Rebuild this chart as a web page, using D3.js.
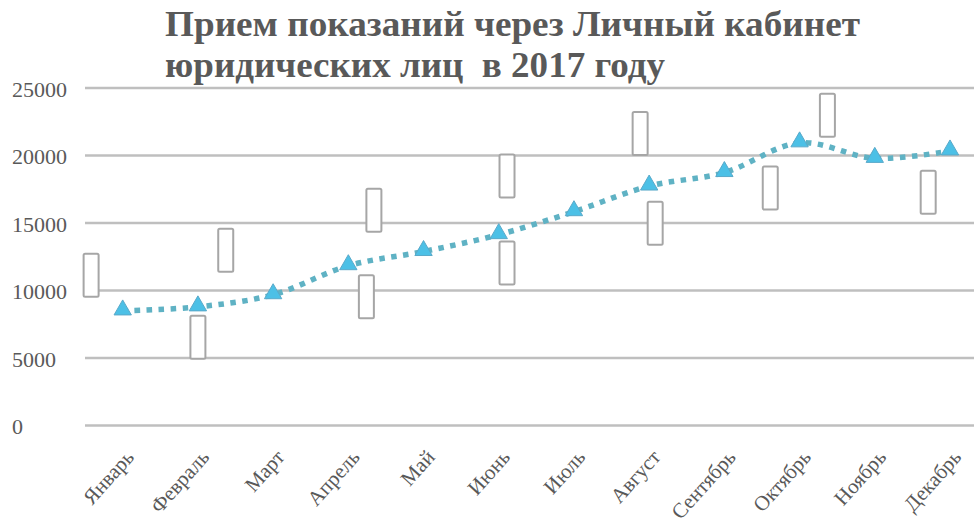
<!DOCTYPE html>
<html>
<head>
<meta charset="utf-8">
<script src="https://cdnjs.cloudflare.com/ajax/libs/d3/7.8.5/d3.min.js"></script>
<style>
  body { margin: 0; background: #fff; }
  svg { display: block; }
</style>
</head>
<body>
<div id="chart"></div>
<script>
// Прием показаний через ЛК юр. лиц, 2017

var months = ['Январь', 'Февраль', 'Март', 'Апрель', 'Май', 'Июнь',
              'Июль', 'Август', 'Сентябрь', 'Октябрь', 'Ноябрь', 'Декабрь'];
var readings = [8450, 8750, 9650, 11800, 12850, 14100,
                15800, 17700, 18700, 20900, 19750, 20300];
var yTicks = [0, 5000, 10000, 15000, 20000, 25000];
var titleLines = ['Прием показаний через Личный кабинет', 'юридических лиц  в 2017 году'];

// empty data-label boxes (category offset, value at box centre)
var labelIdx = [-0.42, 1.0, 1.37, 3.24, 3.34, 5.11, 5.11, 6.88, 7.08, 8.61, 9.37, 10.71];
var labelVal = [11100, 6500, 12950, 9500, 15900, 18450, 12000, 21600, 14950, 17550, 22950, 17250];

var svgWidth = 974, svgHeight = 526;
var svg = d3.select('#chart').append('svg')
    .attr('width', svgWidth)
    .attr('height', svgHeight);

var gridLeft = 85;

var yScale = d3.scaleLinear()
    .domain([0, 25000])
    .range([425, 87.5]);

var xScale = d3.scalePoint()
    .domain(months)
    .range([122.7, 950]);

var step = xScale.step();

// Y axis + gridlines
var yAxis = d3.axisLeft(yScale)
    .tickValues(yTicks)
    .tickSize(-(svgWidth - gridLeft))
    .tickFormat(d3.format('d'));

var gy = svg.append('g')
    .attr('transform', 'translate(' + gridLeft + ',0)')
    .call(yAxis);

gy.select('.domain').remove();
gy.selectAll('.tick line')
    .attr('stroke', '#bfbfbf')
    .attr('stroke-width', 2.5);
gy.selectAll('.tick text')
    .attr('x', 12 - gridLeft)
    .attr('dy', '0.4em')
    .attr('text-anchor', 'start')
    .attr('fill', '#595959')
    .style('font-family', '"Liberation Serif", "Times New Roman", serif')
    .style('font-size', '22px');

// X axis labels
var xAxis = d3.axisBottom(xScale).tickSize(0);

var gx = svg.append('g')
    .attr('transform', 'translate(0,445)')
    .call(xAxis);

gx.select('.domain').remove();
gx.selectAll('.tick text')
    .attr('x', 0)
    .attr('y', 0)
    .attr('dy', 0)
    .attr('text-anchor', 'end')
    .attr('transform', 'translate(12,13) rotate(-48)')
    .attr('fill', '#595959')
    .style('font-family', '"Liberation Serif", "Times New Roman", serif')
    .style('font-size', '21px');

// label boxes
svg.append('g').selectAll('rect')
    .data(labelIdx)
    .enter().append('rect')
        .attr('x', (d) => xScale(months[0]) + d * step - 7.5)
        .attr('y', (d, i) => yScale(labelVal[i]) - 21.5)
        .attr('width', 15)
        .attr('height', 43)
        .attr('rx', 1.5)
        .attr('fill', '#ffffff')
        .attr('stroke', '#a6a6a6')
        .attr('stroke-width', 2);

// line
var line = d3.line()
    .x((d, i) => xScale(months[i]))
    .y((d) => yScale(d))
    .curve(d3.curveCatmullRom.alpha(0.5));

svg.append('path')
    .datum(readings)
    .attr('d', line)
    .attr('fill', 'none')
    .attr('stroke', '#5fb2c4')
    .attr('stroke-width', 5.5)
    .attr('stroke-dasharray', '5.5 6.5');

// triangle markers
var tri = d3.symbol().type(d3.symbolTriangle).size(130);

svg.append('g').selectAll('path')
    .data(readings)
    .enter().append('path')
        .attr('d', tri)
        .attr('transform', (d, i) => 'translate(' + xScale(months[i]) + ',' + (yScale(d) - 1) + ')')
        .attr('fill', '#4cc0e6')
        .attr('stroke', '#5aa9c9')
        .attr('stroke-width', 1);

// title
var widths = [695, 500];
svg.append('g').selectAll('text')
    .data(titleLines)
    .enter().append('text')
        .attr('x', 165)
        .attr('y', (d, i) => 36 + i * 41)
        .attr('textLength', (d, i) => widths[i])
        .attr('lengthAdjust', 'spacingAndGlyphs')
        .attr('fill', '#595959')
        .style('white-space', 'pre')
        .style('font-family', '"Liberation Serif", "Times New Roman", serif')
        .style('font-weight', 'bold')
        .style('font-size', '36px')
        .text((d) => d);
</script>
</body>
</html>
